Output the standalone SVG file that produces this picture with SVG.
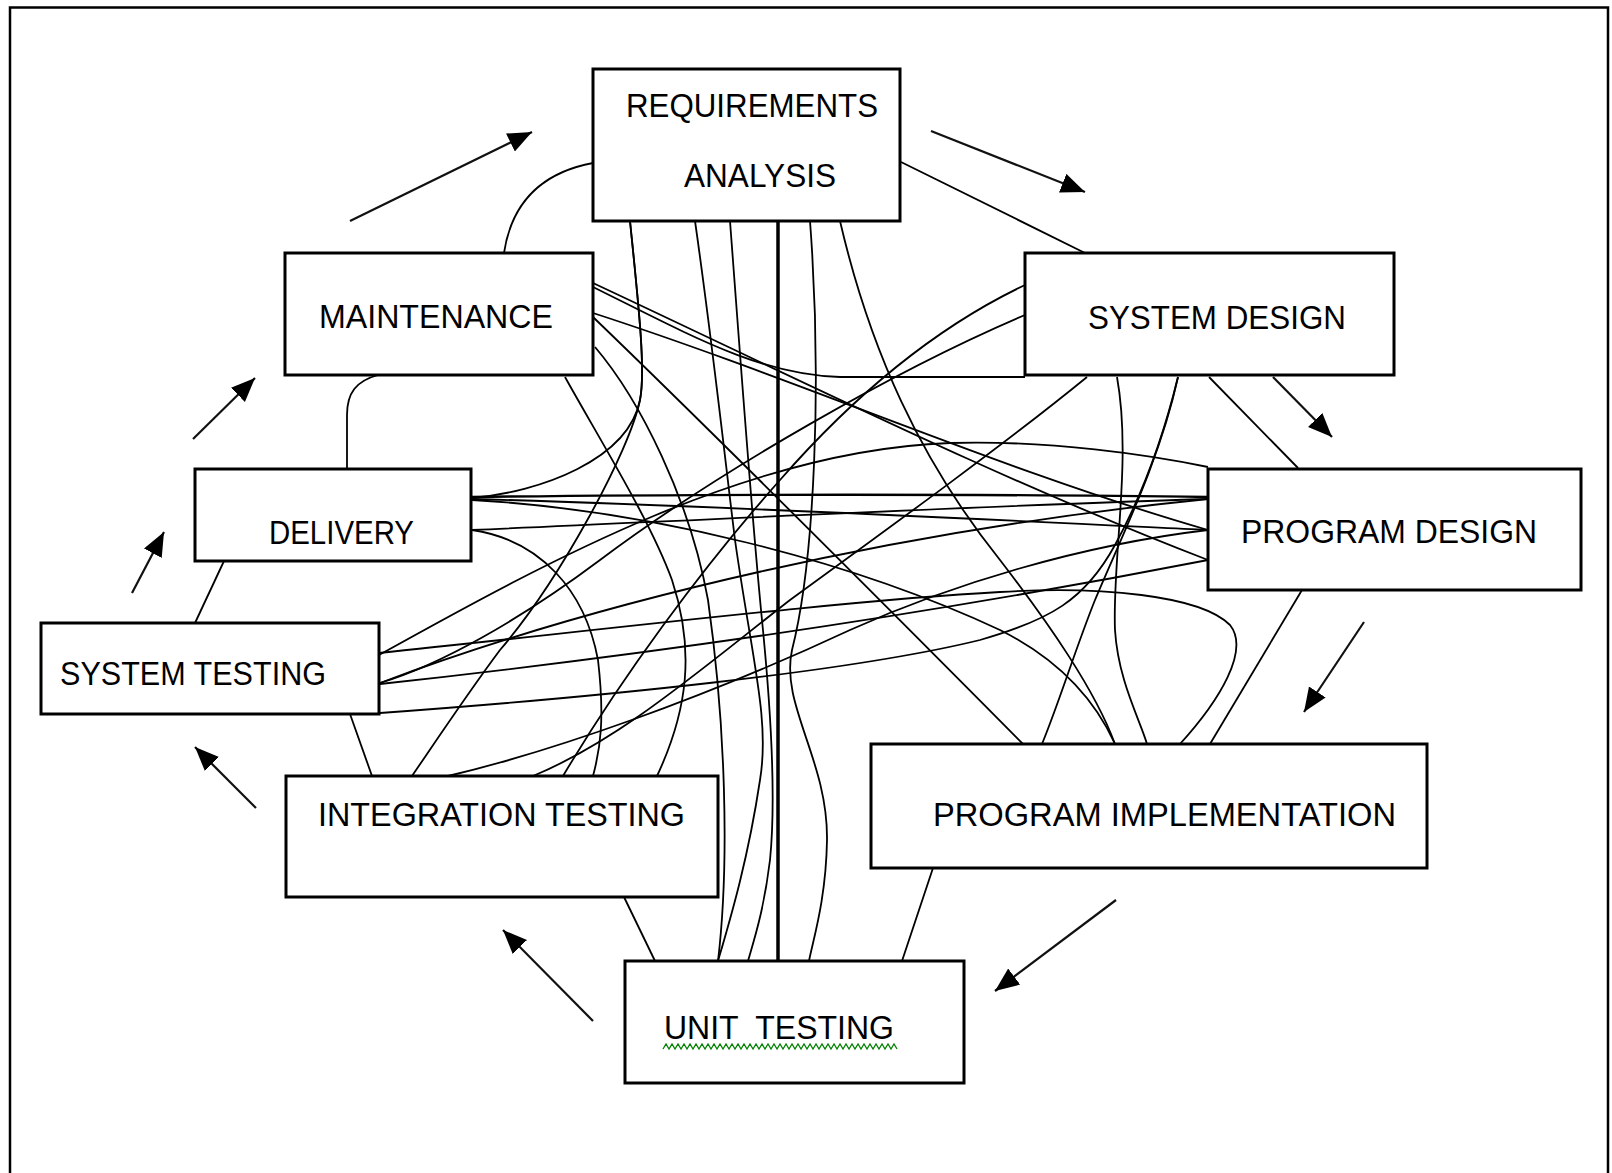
<svg xmlns="http://www.w3.org/2000/svg" width="1612" height="1173" viewBox="0 0 1612 1173">
  <defs>
    <marker id="head" markerUnits="userSpaceOnUse" markerWidth="26" markerHeight="22" refX="24" refY="10" orient="auto">
      <path d="M0,0 L24,10 L0,20 Z" fill="#000"/>
    </marker>
    <style>
      .box { fill: #fff; stroke: #000; stroke-width: 3; }
      .lbl { font-family: "Liberation Sans", Arial, sans-serif; font-size: 33px; fill: #000; }
      .wire { fill: none; stroke: #000; stroke-width: 1.8; }
      .flow { fill: none; stroke: #111; stroke-width: 2.2; marker-end: url(#head); }
      .frame { fill: none; stroke: #000; stroke-width: 2.5; }
    </style>
  </defs>

  <rect width="1612" height="1173" fill="#fff"/>
  <path class="frame" d="M10,1173 V7.5 H1608 V1173"/>

  <!-- cycle arrows between neighbouring phases -->
  <g id="flow-arrows">
    <path class="flow" d="M350,221 L532,132"/>
    <path class="flow" d="M931,131 L1085,192"/>
    <path class="flow" d="M1273,377 L1332,437"/>
    <path class="flow" d="M1364,622 L1304,712"/>
    <path class="flow" d="M1116,900 L995,991"/>
    <path class="flow" d="M593,1021 L503,930"/>
    <path class="flow" d="M256,808 L195,747"/>
    <path class="flow" d="M132,593 L164,532"/>
    <path class="flow" d="M193,439 L255,378"/>
  </g>

  <!-- every phase wired to every other phase -->
  <g id="connectors">
    <!-- ring -->
    <path class="wire" d="M593,163 C545,172 512,200 504,253"/>
    <path class="wire" d="M901,162 L1085,253"/>
    <path class="wire" d="M1209,377 L1298,468"/>
    <path class="wire" d="M1302,590 L1210,744"/>
    <path class="wire" d="M933,868 L902,961"/>
    <path class="wire" d="M624,897 L655,961"/>
    <path class="wire" d="M350,714 L372,776"/>
    <path class="wire" d="M195,623 L224,561"/>
    <path class="wire" d="M347,469 L347,415 C347,393 356,381 378,375"/>
    <!-- across the middle -->
    <path class="wire" d="M630,221 C638,300 646,370 640,400 C628,460 540,492 472,498"/>
    <path class="wire" d="M630,221 C638,300 646,370 640,400 C630,450 560,580 500,650 C470,690 440,735 412,776"/>
    <path class="wire" style="stroke-width:3.5" d="M778,221 V961"/>
    <path class="wire" d="M810,221 C822,380 815,560 792,650 C780,705 828,760 827,840 C826,900 813,940 809,961"/>
    <path class="wire" d="M695,221 C712,340 724,450 735,540 C752,660 770,720 760,780 C748,860 730,920 718,961"/>
    <path class="wire" d="M730,221 C742,380 752,520 762,620 C772,720 776,800 770,860 C764,910 754,940 748,961"/>
    <path class="wire" d="M840,221 C870,350 920,460 1000,560 C1050,625 1095,690 1115,744"/>
    <path class="wire" d="M593,287 C690,335 760,375 840,377 L1025,377"/>
    <path class="wire" d="M593,283 C800,380 1000,480 1208,560"/>
    <path class="wire" d="M593,313 C800,380 1000,470 1208,530"/>
    <path class="wire" d="M593,317 C700,420 900,620 1023,744"/>
    <path class="wire" d="M595,347 C640,400 690,500 708,600 C725,720 730,860 718,961"/>
    <path class="wire" d="M565,377 C600,440 650,520 672,580 C695,650 688,710 657,776"/>
    <path class="wire" d="M1025,285 C930,330 850,400 780,480 C700,570 620,680 563,776"/>
    <path class="wire" d="M1025,315 C900,368 720,470 600,560 C520,620 440,665 380,683"/>
    <path class="wire" d="M1087,377 C1010,440 900,520 790,600 C700,670 620,740 533,776"/>
    <path class="wire" d="M1117,377 C1132,460 1112,560 1115,630 C1118,680 1140,720 1147,744"/>
    <path class="wire" d="M1178,377 C1160,460 1120,540 1095,600 C1075,650 1060,700 1042,744"/>
    <path class="wire" d="M380,713 C600,697 850,672 980,640 C1050,620 1085,600 1115,545 C1145,490 1165,430 1178,377"/>
    <path class="wire" style="stroke-width:2.4" d="M472,497 C700,494 1000,494 1208,497"/>
    <path class="wire" d="M472,499 C700,505 1000,520 1208,530"/>
    <path class="wire" d="M472,530 C700,520 1000,505 1208,499"/>
    <path class="wire" d="M472,530 C540,540 585,590 598,660 C605,720 600,750 593,776"/>
    <path class="wire" d="M472,500 C650,510 850,560 1000,630 C1060,660 1095,700 1115,744"/>
    <path class="wire" d="M379,653 C600,630 850,600 1000,592 C1100,586 1200,595 1230,625 C1250,650 1220,700 1180,744"/>
    <path class="wire" d="M379,655 C550,560 750,450 950,443 C1050,440 1150,455 1208,467"/>
    <path class="wire" d="M380,683 C600,600 900,530 1208,499"/>
    <path class="wire" d="M380,684 C600,660 900,620 1208,560"/>
    <path class="wire" d="M448,776 C550,752 700,700 850,630 C950,585 1080,545 1208,530"/>
  </g>

  <g id="node-requirements">
    <rect class="box" x="593" y="69" width="307" height="152"/>
    <text class="lbl" x="626" y="117" textLength="252" lengthAdjust="spacingAndGlyphs">REQUIREMENTS</text>
    <text class="lbl" x="684" y="187" textLength="152" lengthAdjust="spacingAndGlyphs">ANALYSIS</text>
  </g>
  <g id="node-maintenance">
    <rect class="box" x="285" y="253" width="308" height="122"/>
    <text class="lbl" x="319" y="328" textLength="234" lengthAdjust="spacingAndGlyphs">MAINTENANCE</text>
  </g>
  <g id="node-system-design">
    <rect class="box" x="1025" y="253" width="369" height="122"/>
    <text class="lbl" x="1088" y="329" textLength="258" lengthAdjust="spacingAndGlyphs">SYSTEM DESIGN</text>
  </g>
  <g id="node-delivery">
    <rect class="box" x="195" y="469" width="276" height="92"/>
    <text class="lbl" x="269" y="544" textLength="145" lengthAdjust="spacingAndGlyphs">DELIVERY</text>
  </g>
  <g id="node-program-design">
    <rect class="box" x="1208" y="469" width="373" height="121"/>
    <text class="lbl" x="1241" y="543" textLength="296" lengthAdjust="spacingAndGlyphs">PROGRAM DESIGN</text>
  </g>
  <g id="node-system-testing">
    <rect class="box" x="41" y="623" width="338" height="91"/>
    <text class="lbl" x="60" y="685" textLength="266" lengthAdjust="spacingAndGlyphs">SYSTEM TESTING</text>
  </g>
  <g id="node-integration-testing">
    <rect class="box" x="286" y="776" width="432" height="121"/>
    <text class="lbl" x="318" y="826" textLength="367" lengthAdjust="spacingAndGlyphs">INTEGRATION TESTING</text>
  </g>
  <g id="node-program-implementation">
    <rect class="box" x="871" y="744" width="556" height="124"/>
    <text class="lbl" x="933" y="826" textLength="463" lengthAdjust="spacingAndGlyphs">PROGRAM IMPLEMENTATION</text>
  </g>
  <g id="node-unit-testing">
    <rect class="box" x="625" y="961" width="339" height="122"/>
    <text class="lbl" x="664" y="1039" textLength="230" lengthAdjust="spacingAndGlyphs" xml:space="preserve">UNIT  TESTING</text>
    <!-- spell-check squiggle under the label: 39 zigzag periods, 663 to 897 -->
    <path fill="none" stroke="#008000" stroke-width="1.3" d="M663,1049
      l3,-5 l3,5 l3,-5 l3,5 l3,-5 l3,5 l3,-5 l3,5 l3,-5 l3,5 l3,-5 l3,5 l3,-5 l3,5 l3,-5 l3,5 l3,-5 l3,5 l3,-5 l3,5
      l3,-5 l3,5 l3,-5 l3,5 l3,-5 l3,5 l3,-5 l3,5 l3,-5 l3,5 l3,-5 l3,5 l3,-5 l3,5 l3,-5 l3,5 l3,-5 l3,5 l3,-5 l3,5
      l3,-5 l3,5 l3,-5 l3,5 l3,-5 l3,5 l3,-5 l3,5 l3,-5 l3,5 l3,-5 l3,5 l3,-5 l3,5 l3,-5 l3,5 l3,-5 l3,5 l3,-5 l3,5
      l3,-5 l3,5 l3,-5 l3,5 l3,-5 l3,5 l3,-5 l3,5 l3,-5 l3,5 l3,-5 l3,5 l3,-5 l3,5 l3,-5 l3,5 l3,-5 l3,5"/>
  </g>
</svg>
